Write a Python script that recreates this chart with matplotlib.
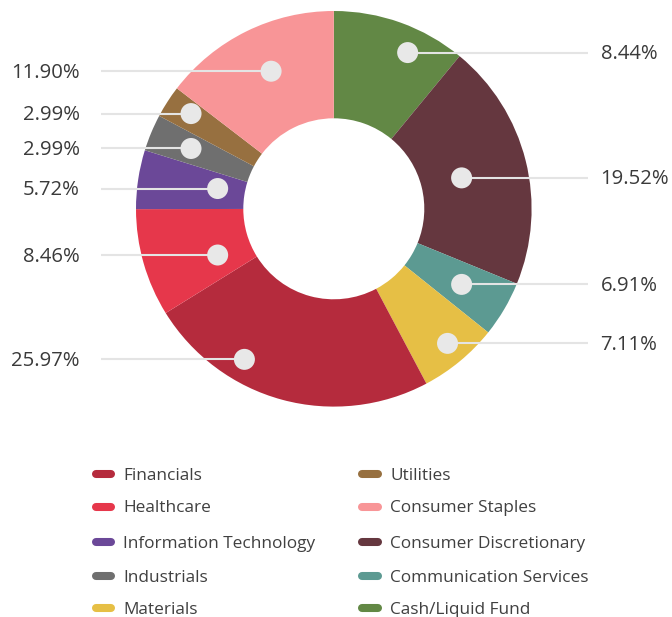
import matplotlib
matplotlib.use("Agg")
import matplotlib.pyplot as plt
from matplotlib.patches import Circle
import numpy as np

plt.rcParams['font.family'] = ['Open Sans', 'DejaVu Sans']

# ---- data (clockwise from 12 o'clock) ----
sectors = ["Cash/Liquid Fund", "Consumer Discretionary", "Communication Services",
           "Materials", "Financials", "Healthcare", "Information Technology",
           "Industrials", "Utilities", "Consumer Staples"]
# wedge shares as drawn in the picture (%)
wedge_share = [10.97, 20.22, 4.56, 6.50, 23.92, 8.81, 4.81, 3.00, 2.64, 14.58]
# printed labels
pct_labels = ["8.44%", "19.52%", "6.91%", "7.11%", "25.97%", "8.46%",
              "5.72%", "2.99%", "2.99%", "11.90%"]
legend_order = ["Financials", "Healthcare", "Information Technology", "Industrials",
                "Materials", "Utilities", "Consumer Staples", "Consumer Discretionary",
                "Communication Services", "Cash/Liquid Fund"]

# ---- styles / layout ----
colors = {
    "Financials": "#B52B3D", "Healthcare": "#E6374B", "Information Technology": "#6B4898",
    "Industrials": "#6F6F6F", "Materials": "#E6BF45", "Utilities": "#977040",
    "Consumer Staples": "#F89597", "Consumer Discretionary": "#65373F",
    "Communication Services": "#5C9A92", "Cash/Liquid Fund": "#628845",
}
W, H = 672, 617
cx, cy = 333.8, 208.8          # pixel centre (y from top)
R_out, R_in = 197.8, 90.5
# callout anchor: angle (deg clockwise from top), radius (px)
anchor_deg = [25.3, 76.4, 120.6, 139.8, 210.7, 248.3, 279.9, 292.9, 303.7, 335.5]
anchor_r = [172.8, 131.5, 148.5, 176.2, 175.1, 125.0, 117.9, 155.0, 171.6, 151.2]

fig = plt.figure(figsize=(W / 100, H / 100), dpi=100)
ax = fig.add_axes([0, 0, 1, 1])

def Y(ypx):
    return H - ypx

ax.pie(wedge_share, colors=[colors[s] for s in sectors], startangle=90,
       counterclock=False, center=(cx, Y(cy)), radius=R_out,
       wedgeprops=dict(width=R_out - R_in, edgecolor='none', linewidth=0))

label_color = "#3a3a3a"
for lab, ang, r in zip(pct_labels, anchor_deg, anchor_r):
    t = np.deg2rad(ang)
    px = cx + r * np.sin(t)
    py = Y(cy - r * np.cos(t))
    if ang > 180:
        ax.plot([101, px], [py, py], color="#e4e4e4", lw=1.5, zorder=3,
                solid_capstyle='butt')
        ax.text(79.5, py - 1.5, lab, ha='right', va='center', fontsize=14.6,
                color=label_color)
    else:
        ax.plot([px, 588], [py, py], color="#e4e4e4", lw=1.5, zorder=3,
                solid_capstyle='butt')
        ax.text(600.5, py - 1.5, lab, ha='left', va='center', fontsize=14.6,
                color=label_color)
    ax.add_patch(Circle((px, py), 10.5, facecolor="#e8e8e8", edgecolor='none',
                        zorder=4))

# ---- legend ----
row_y = [474.3, 506.5, 541.5, 575.5, 607.5]
col_x = [(91.7, 115.3, 123.3), (358.3, 381.7, 390.0)]
for i, name in enumerate(legend_order):
    c, r = divmod(i, 5)
    x0, x1, xt = col_x[c]
    yy = Y(row_y[r])
    ax.plot([x0 + 4, x1 - 4], [yy, yy], color=colors[name], lw=5.8,
            solid_capstyle='round', zorder=3)
    ax.text(xt, yy - 2, name, ha='left', va='center', fontsize=12.4, color="#404040")

ax.set_xlim(0, W)
ax.set_ylim(0, H)
ax.set_aspect('auto')
ax.axis('off')
fig.savefig("out.png", dpi=100, facecolor='white')
